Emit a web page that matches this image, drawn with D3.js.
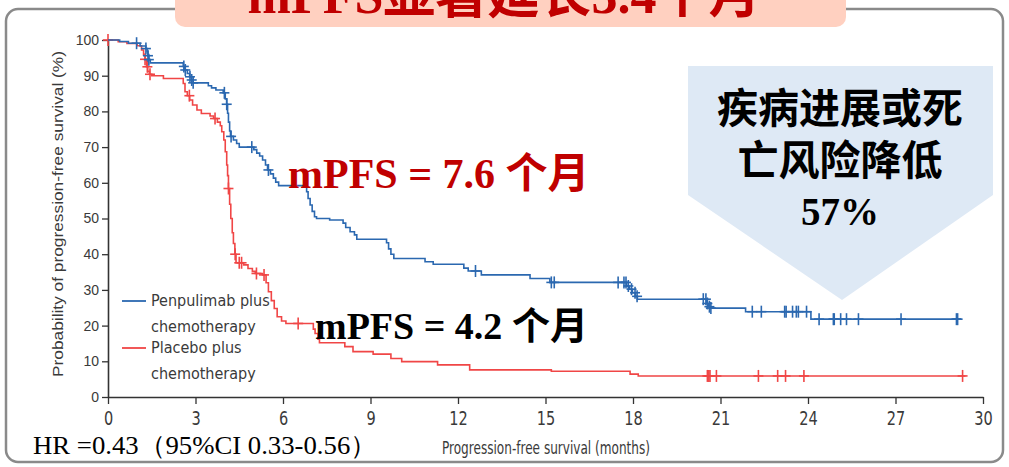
<!DOCTYPE html>
<html>
<head>
<meta charset="utf-8">
<script src="https://cdn.jsdelivr.net/npm/d3@7"></script>
<style>
  body { margin: 0; background: #fff; }
  svg { display: block; }
</style>
</head>
<body>
<script>
// step points [months, PFS %]
const penpulimabSteps = [[0,100],[0.4,99.6],[0.7,99.1],[1.1,98.3],[1.3,97.6],[1.34,96.7],[1.37,95.6],[1.4,94.5],[1.45,93.6],
  [2.58,92.6],[2.63,91.6],[2.72,90.6],[2.8,89.7],[2.86,88.8],[2.92,88],[3.44,87.2],[3.55,86.6],[3.7,86],[3.95,85.2],
  [4.02,83.5],[4.07,82],[4.1,79.5],[4.13,77],[4.17,74.5],[4.2,73],[4.3,72],[4.41,71],[4.5,70],[5.0,69.3],[5.1,68.3],
  [5.2,67.5],[5.3,66.4],[5.4,65],[5.47,63.6],[5.57,62.5],[5.67,61.3],[5.75,60.2],[5.85,59.2],[6.81,57.5],[6.86,55.6],
  [6.93,53.8],[7.0,52],[7.08,50.5],[7.15,50],[7.6,49.6],[8.06,48.7],[8.15,47.5],[8.3,46.3],[8.45,45.4],[8.53,44.2],
  [9.55,43.2],[9.62,41.5],[9.7,40],[9.8,38.8],[10.87,37.9],[11.15,37.2],[12.2,36.1],[12.35,35.3],[12.8,34.2],
  [14.47,33.2],[15.15,32.1],[17.78,31.1],[17.88,30.2],[17.98,29.2],[18.08,28.2],[18.15,27.4],[20.52,26.2],
  [20.58,25.3],[20.65,24.9],[21.86,23.9],[24.1,21.8]];
const penpulimabEnd = 29.25;
const penpulimabCensor = [0.98,1.3,1.37,1.4,2.6,2.65,2.81,2.87,2.92,3.99,4.07,4.22,4.93,5.5,12.6,15.2,15.3,
  17.49,17.69,17.76,17.84,17.95,18.07,18.14,20.41,20.5,20.55,20.62,20.67,22.09,22.4,23.2,23.25,23.47,23.6,
  23.67,23.95,24.38,24.87,24.9,25.12,25.32,25.73,27.19,29.09,29.13];

const placeboSteps = [[0,100],[0.35,99.5],[0.65,99],[1.0,98.4],[1.15,97.2],[1.22,95.8],[1.27,94.6],[1.32,92.5],
  [1.36,91.2],[1.42,90.4],[1.5,90],[1.9,89.2],[2.58,87.8],[2.64,85.5],[2.72,84.4],[2.8,83.2],[2.9,81.8],[3.05,80.4],
  [3.2,79.4],[3.5,78.7],[3.62,78],[3.75,77],[3.85,76],[3.9,74.3],[3.97,72],[4.02,68.7],[4.07,65],[4.1,62],[4.13,58.4],
  [4.17,54],[4.21,50],[4.26,46],[4.3,43],[4.35,40],[4.39,37.6],[4.65,37],[4.8,36],[4.95,35.2],[5.05,34.6],[5.3,34.2],
  [5.42,32],[5.5,29.5],[5.6,27],[5.7,24.8],[5.8,22.5],[5.95,21.3],[6.1,20.6],[7.04,19],[7.1,17.8],[7.2,16.2],
  [7.25,15.2],[8.12,14.1],[8.4,12.7],[9.09,12],[9.7,10.8],[10.07,9.9],[11.3,9.0],[12.4,7.6],[15.2,7.2],[17.9,6.4],
  [18.18,5.9]];
const placeboEnd = 29.4;
const placeboCensor = [0,1.27,1.35,1.44,2.79,3.67,4.13,4.36,4.5,4.58,5.09,5.35,6.52,20.55,20.6,20.64,20.86,
  22.3,22.96,23.23,23.86,29.3];

const xTicks = [0,3,6,9,12,15,18,21,24,27,30];
const yTicks = [0,10,20,30,40,50,60,70,80,90,100];
const legendLabels = [["Penpulimab plus","chemotherapy"],["Placebo plus","chemotherapy"]];
const calloutLines = ["疾病进展或死","亡风险降低","57%"];
const hrText = "HR =0.43（95%CI 0.33-0.56）";

const blue = "#2b68b0", red = "#f04646";
const latin = "'Liberation Serif','Times New Roman',serif";
const cjk = "'Noto Sans CJK SC','Noto Sans CJK JP',sans-serif";
const narrow = "'Liberation Sans Narrow','DejaVu Sans Condensed',sans-serif";

const width = 1009, height = 467;
const svg = d3.select("body").append("svg").attr("width", width).attr("height", height);

const x = d3.scaleLinear().domain([0, 30]).range([108, 983]);
const y = d3.scaleLinear().domain([0, 100]).range([397, 40]);

// outer frame
svg.append("rect").attr("x", 6).attr("y", 9).attr("width", 997).attr("height", 453)
  .attr("rx", 12).attr("fill", "none").attr("stroke", "#8a8a8a").attr("stroke-width", 2.5);

// title box (cut off at top)
svg.append("rect").attr("x", 175).attr("y", -20).attr("width", 671).attr("height", 47)
  .attr("rx", 10).attr("fill", "#ffd0c0");
const title = svg.append("text").attr("x", 504).attr("y", 13).attr("text-anchor", "middle")
  .attr("fill", "#c00000").attr("font-weight", "bold").attr("font-size", 52);
title.append("tspan").attr("font-family", latin).text("mPFS");
title.append("tspan").attr("font-family", cjk).text("显著延长");
title.append("tspan").attr("font-family", latin).text("3.4");
title.append("tspan").attr("font-family", cjk).text("个月");

// callout arrow
svg.append("path")
  .attr("d", d3.line()([[688,66],[993,66],[993,195],[842,300],[688,195]]) + "Z")
  .attr("fill", "#dee9f5");
svg.append("text").attr("x", 840).attr("y", 123).attr("text-anchor", "middle")
  .attr("font-family", cjk).attr("font-weight", "bold").attr("font-size", 41).text(calloutLines[0]);
svg.append("text").attr("x", 840).attr("y", 175).attr("text-anchor", "middle")
  .attr("font-family", cjk).attr("font-weight", "bold").attr("font-size", 41).text(calloutLines[1]);
svg.append("text").attr("x", 840).attr("y", 225).attr("text-anchor", "middle")
  .attr("font-family", latin).attr("font-weight", "bold").attr("font-size", 39).text(calloutLines[2]);

// axes
const yAxis = svg.append("g").attr("transform", "translate(108,0)")
  .call(d3.axisLeft(y).tickValues(yTicks).tickSize(6).tickSizeOuter(0).tickPadding(3));
const xAxis = svg.append("g").attr("transform", "translate(0,397)")
  .call(d3.axisBottom(x).tickValues(xTicks).tickSize(7).tickSizeOuter(0).tickPadding(8));
[yAxis, xAxis].forEach(function(g) {
  g.select(".domain").attr("stroke", "#333").attr("stroke-width", 1.6);
  g.selectAll(".tick line").attr("stroke", "#333").attr("stroke-width", 1.3);
  g.selectAll("text").attr("fill", "#3a3a3a");
});
yAxis.selectAll("text").attr("font-family", "'Liberation Sans',sans-serif").attr("font-size", 14);
// condensed tick labels, still centred on each tick
xAxis.selectAll(".tick text").attr("font-family", narrow).attr("font-size", 19)
  .attr("transform", "scale(0.85,1)");

svg.append("text").attr("transform", "translate(63,214) rotate(-90)").attr("text-anchor", "middle")
  .attr("font-family", "'Liberation Sans',sans-serif").attr("font-size", 14).attr("fill", "#3a3a3a")
  .attr("textLength", 326).attr("lengthAdjust", "spacingAndGlyphs")
  .text("Probability of progression-free survival (%)");
svg.append("text").attr("x", 442).attr("y", 454)
  .attr("font-family", narrow).attr("font-size", 17).attr("fill", "#3a3a3a")
  .attr("textLength", 208).attr("lengthAdjust", "spacingAndGlyphs")
  .text("Progression-free survival (months)");

// curves
const line = d3.line().x(function(d) { return x(d[0]); }).y(function(d) { return y(d[1]); })
  .curve(d3.curveStepAfter);

function survivalAt(steps, t) {
  let p = steps[0][1];
  steps.forEach(function(s) { if (s[0] <= t) p = s[1]; });
  return p;
}

function drawCurve(steps, end, censor, color) {
  const pts = steps.concat([[end, steps[steps.length - 1][1]]]);
  svg.append("path").attr("d", line(pts)).attr("fill", "none")
    .attr("stroke", color).attr("stroke-width", 1.6);
  const g = svg.append("g").attr("stroke", color).attr("stroke-width", 1.6);
  censor.forEach(function(t) {
    const cx = x(t), cy = y(survivalAt(steps, t));
    g.append("line").attr("x1", cx).attr("x2", cx).attr("y1", cy - 6).attr("y2", cy + 6);
    g.append("line").attr("x1", cx - 5).attr("x2", cx + 5).attr("y1", cy).attr("y2", cy);
  });
}
drawCurve(placeboSteps, placeboEnd, placeboCensor, red);
drawCurve(penpulimabSteps, penpulimabEnd, penpulimabCensor, blue);

// legend
const legendY = [301, 348];
[blue, red].forEach(function(c, i) {
  svg.append("line").attr("x1", 122).attr("x2", 146).attr("y1", legendY[i]).attr("y2", legendY[i])
    .attr("stroke", c).attr("stroke-width", 1.8);
  legendLabels[i].forEach(function(s, j) {
    svg.append("text").attr("x", 151).attr("y", legendY[i] + 5 + j * 26)
      .attr("font-family", narrow).attr("font-size", 16).attr("fill", "#3a3a3a").text(s);
  });
});

// median labels
function medianLabel(xp, yp, value, color, size) {
  const t = svg.append("text").attr("x", xp).attr("y", yp).attr("fill", color)
    .attr("font-weight", "bold").attr("font-size", size);
  t.append("tspan").attr("font-family", latin).text("mPFS = " + value + " ");
  t.append("tspan").attr("font-family", cjk).text("个月");
}
medianLabel(288, 188, "7.6", "#c00000", 42);
medianLabel(315, 339, "4.2", "#000", 38);

svg.append("text").attr("x", 33).attr("y", 454).attr("font-family", latin).attr("font-size", 26)
  .attr("fill", "#000").attr("textLength", 344).attr("lengthAdjust", "spacingAndGlyphs").text(hrText);
</script>
</body>
</html>
